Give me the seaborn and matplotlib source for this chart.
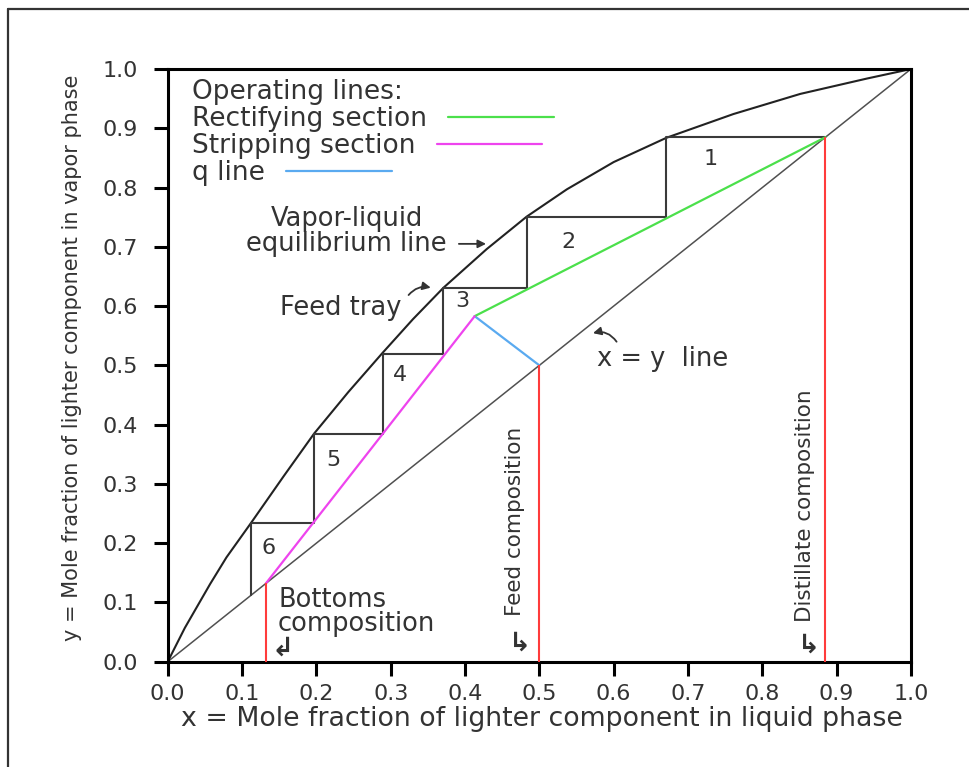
import matplotlib
matplotlib.use("Agg")
import matplotlib.pyplot as plt
import seaborn as sns
from matplotlib.lines import Line2D

# ---------------- data ----------------
# vapor-liquid equilibrium curve
vle_x = [0.0, 0.023, 0.057, 0.079, 0.112, 0.156, 0.197, 0.243, 0.289, 0.330,
         0.371, 0.429, 0.483, 0.537, 0.600, 0.671, 0.761, 0.851, 0.941, 1.0]
vle_y = [0.0, 0.057, 0.131, 0.176, 0.234, 0.313, 0.385, 0.455, 0.521, 0.578,
         0.631, 0.696, 0.751, 0.797, 0.843, 0.884, 0.924, 0.958, 0.984, 1.0]

# x = y line
diag_x = [0.0, 1.0]
diag_y = [0.0, 1.0]

# compositions
x_B = 0.132   # bottoms
x_F = 0.500   # feed
x_D = 0.885   # distillate
comp_x = [x_B, x_F, x_D]

# operating lines and q line
rect_x = [0.885, 0.413]
rect_y = [0.885, 0.583]
strip_x = [0.132, 0.413]
strip_y = [0.132, 0.583]
q_x = [0.500, 0.413]
q_y = [0.500, 0.583]

# McCabe-Thiele staircase
stair_x = [0.885, 0.671, 0.671, 0.483, 0.483, 0.371, 0.371, 0.289, 0.289,
           0.197, 0.197, 0.112, 0.112]
stair_y = [0.885, 0.885, 0.750, 0.750, 0.631, 0.631, 0.519, 0.519, 0.385,
           0.385, 0.234, 0.234, 0.112]

# stage numbers
stage_labels = ["1", "2", "3", "4", "5", "6"]
stage_lx = [0.730, 0.539, 0.396, 0.313, 0.2226, 0.135]
stage_ly = [0.848, 0.708, 0.609, 0.483, 0.3395, 0.191]

tick_vals = [0.0, 0.1, 0.2, 0.3, 0.4, 0.5, 0.6, 0.7, 0.8, 0.9, 1.0]
tick_labels = ["0.0", "0.1", "0.2", "0.3", "0.4", "0.5", "0.6", "0.7", "0.8", "0.9", "1.0"]

legend_labels = ["Rectifying section", "Stripping section", "q line"]
legend_title = "Operating lines:"

# ---------------- style ----------------
sns.set_theme(style="white")
plt.rcParams["font.family"] = ["DejaVu Sans"]
TXT = "#333333"
DARK = "#3a3a3a"
GREEN = "#4be04b"
MAGENTA = "#ee44ee"
BLUE = "#5aaaf0"
RED = "#ff3b3b"

fig = plt.figure(figsize=(9.69, 7.67), dpi=100)
fig.patch.set_facecolor("white")
ax = fig.add_axes([0.1731, 0.1373, 0.7670, 0.7727])
ax.set_facecolor("white")

# lines
sns.lineplot(x=diag_x, y=diag_y, ax=ax, color="#505050", lw=1.1, sort=False, estimator=None)
sns.lineplot(x=vle_x, y=vle_y, ax=ax, color="#222222", lw=1.5, sort=False, estimator=None)
sns.lineplot(x=stair_x, y=stair_y, ax=ax, color=DARK, lw=1.5, sort=False, estimator=None)
ax.vlines(comp_x, [0, 0, 0], comp_x, colors=RED, lw=1.5, zorder=3)
sns.lineplot(x=q_x, y=q_y, ax=ax, color=BLUE, lw=1.6, sort=False, estimator=None,
             label=legend_labels[2])
sns.lineplot(x=rect_x, y=rect_y, ax=ax, color=GREEN, lw=1.6, sort=False, estimator=None,
             label=legend_labels[0])
sns.lineplot(x=strip_x, y=strip_y, ax=ax, color=MAGENTA, lw=1.6, sort=False, estimator=None,
             label=legend_labels[1])

# axes formatting
ax.set_xlim(0, 1)
ax.set_ylim(0, 1)
ax.set_xticks(tick_vals)
ax.set_xticklabels(tick_labels)
ax.set_yticks(tick_vals)
ax.set_yticklabels(tick_labels)
for s in ax.spines.values():
    s.set_visible(True)
    s.set_color("black")
    s.set_linewidth(2.2)
ax.tick_params(axis="both", which="major", direction="out", length=10, width=2.2,
               color="black", labelsize=16, labelcolor=TXT, bottom=True, left=True)
ax.tick_params(axis="x", pad=6)
ax.tick_params(axis="y", pad=11.5)

ax.set_xlabel("x = Mole fraction of lighter component in liquid phase",
              fontsize=19.3, color=TXT)
ax.xaxis.set_label_coords(0.5036, -0.074)
ax.set_ylabel("y = Mole fraction of lighter component in vapor phase",
              fontsize=15, color=TXT)
ax.yaxis.set_label_coords(-0.1153, 0.512)

# legend (text column left-aligned, key right after the text)
handles, labels = ax.get_legend_handles_labels()
order = [labels.index(l) for l in legend_labels]
leg = ax.legend([handles[i] for i in order], [labels[i] for i in order],
                title=legend_title, loc="upper left", bbox_to_anchor=(0.033, 0.984),
                frameon=False, markerfirst=False, fontsize=19, title_fontsize=19,
                handlelength=4.0, handletextpad=0.8, labelspacing=0.05,
                borderpad=0, borderaxespad=0, alignment="left")
for col in leg._legend_handle_box.get_children():
    col.align = "left"
for t in leg.get_texts():
    t.set_color(TXT)
leg.get_title().set_color(TXT)

# stage numbers
for lab, lx, ly in zip(stage_labels, stage_lx, stage_ly):
    ax.text(lx, ly, lab, ha="center", va="center", fontsize=16, color=TXT)

# annotations
ax.text(0.2407, 0.726, "Vapor-liquid\nequilibrium line", ha="center", va="center",
        fontsize=18.5, color=TXT, linespacing=0.98, multialignment="center")
ax.annotate("", xy=(0.432, 0.705), xytext=(0.388, 0.705),
            arrowprops=dict(arrowstyle="-|>", color=TXT, lw=1.3, mutation_scale=12))

ax.text(0.151, 0.597, "Feed tray", ha="left", va="center", fontsize=18.5, color=TXT)
ax.annotate("", xy=(0.3575, 0.630), xytext=(0.3217, 0.615),
            arrowprops=dict(arrowstyle="-|>", color=TXT, lw=1.3, mutation_scale=12,
                            connectionstyle="arc3,rad=-0.35"))

ax.text(0.578, 0.511, "x = y  line", ha="left", va="center", fontsize=18.5, color=TXT)
ax.annotate("", xy=(0.5686, 0.553), xytext=(0.606, 0.536),
            arrowprops=dict(arrowstyle="-|>", color=TXT, lw=1.3, mutation_scale=12,
                            connectionstyle="arc3,rad=0.4"))

ax.text(0.1485, 0.0837, "Bottoms\ncomposition", ha="left", va="center", fontsize=18.5,
        color=TXT, linespacing=0.93)
ax.text(0.155, 0.022, "\u21b2", ha="center", va="center", fontsize=19, color=TXT,
        fontweight="bold")

ax.text(0.4667, 0.237, "Feed composition", rotation=90, ha="center", va="center",
        fontsize=15.5, color=TXT)
ax.text(0.4745, 0.030, "\u21b3", ha="center", va="center", fontsize=19, color=TXT,
        fontweight="bold")

ax.text(0.858, 0.264, "Distillate composition", rotation=90, ha="center", va="center",
        fontsize=15.5, color=TXT)
ax.text(0.8625, 0.028, "\u21b3", ha="center", va="center", fontsize=19, color=TXT,
        fontweight="bold")

# outer frame (top and left edges only, as in the reference)
fig.add_artist(Line2D([7.5 / 969, 1.0], [1 - 9 / 767, 1 - 9 / 767],
                      transform=fig.transFigure, color="#333333", lw=1.6))
fig.add_artist(Line2D([7.5 / 969, 7.5 / 969], [0.0, 1 - 9 / 767],
                      transform=fig.transFigure, color="#333333", lw=1.6))

fig.savefig("out.png", dpi=100, facecolor="white")
